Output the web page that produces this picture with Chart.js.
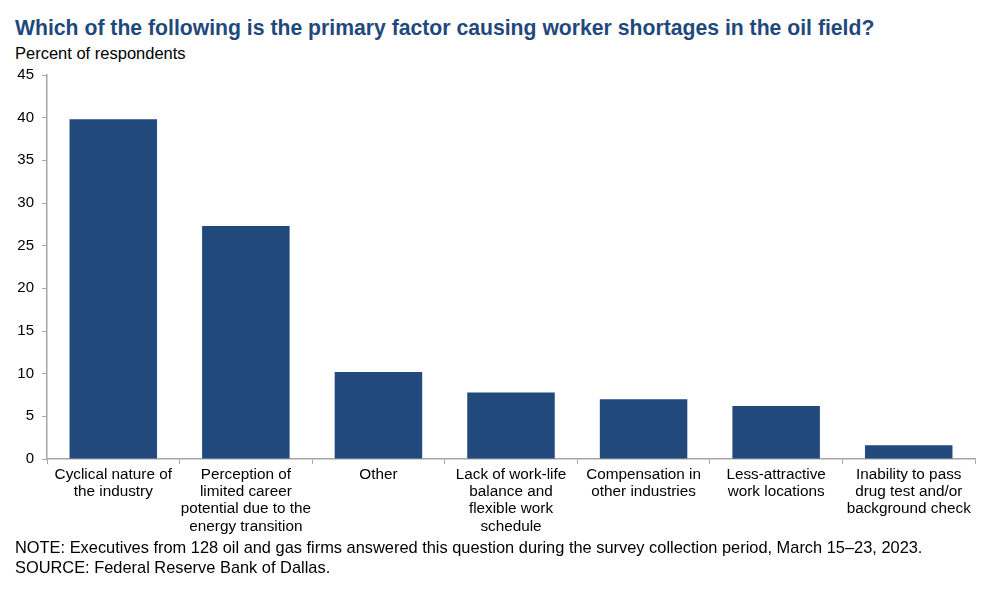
<!DOCTYPE html>
<html>
<head>
<meta charset="utf-8">
<script src="https://cdn.jsdelivr.net/npm/chart.js@4"></script>
<style>
  html, body { margin: 0; padding: 0; background: #fff; width: 1000px; height: 595px; overflow: hidden; font-family: "Liberation Sans", Arial, sans-serif; }
  .t { position: absolute; white-space: nowrap; }
  #title { left: 15px; top: 16px; font-size: 21.2px; font-weight: bold; color: #1f497d; }
  #sub { left: 15px; top: 44px; font-size: 16.5px; color: #000; }
  #note { left: 15px; top: 538px; font-size: 16.4px; color: #000; line-height: 19.5px; }
  #wrap { position: absolute; left: 0; top: 58px; width: 1000px; height: 481px; }
</style>
</head>
<body>
<div class="t" id="title">Which of the following is the primary factor causing worker shortages in the oil field?</div>
<div class="t" id="sub">Percent of respondents</div>
<div id="wrap"><canvas id="c"></canvas></div>
<div class="t" id="note">NOTE: Executives from 128 oil and gas firms answered this question during the survey collection period, March 15–23, 2023.<br>SOURCE: Federal Reserve Bank of Dallas.</div>
<script>
const categories = [
  ["Cyclical nature of", "the industry"],
  ["Perception of", "limited career", "potential due to the", "energy transition"],
  ["Other"],
  ["Lack of work-life", "balance and", "flexible work", "schedule"],
  ["Compensation in", "other industries"],
  ["Less-attractive", "work locations"],
  ["Inability to pass", "drug test and/or", "background check"]
];
const values = [39.8, 27.3, 10.2, 7.8, 7.0, 6.2, 1.6];
const yTicks = [0, 5, 10, 15, 20, 25, 30, 35, 40, 45];

const axisGrey = "#a6a6a6";
new Chart(document.getElementById("c"), {
  type: "bar",
  data: {
    labels: categories,
    datasets: [{
      data: values,
      backgroundColor: "#21497c",
      borderWidth: 0,
      categoryPercentage: 1,
      barPercentage: 0.66
    }]
  },
  options: {
    responsive: true,
    maintainAspectRatio: false,
    animation: false,
    devicePixelRatio: 1,
    layout: { padding: { left: 0, right: 25, top: 13, bottom: 0 } },
    plugins: { legend: { display: false }, tooltip: { enabled: false }, title: { display: false } },
    scales: {
      x: {
        offset: true,
        grid: { offset: true, drawOnChartArea: false, drawTicks: true, tickLength: 5, color: axisGrey, lineWidth: 1 },
        border: { display: true, color: axisGrey, width: 1.5 },
        ticks: { color: "#000", font: { family: "Liberation Sans", size: 15.3, lineHeight: 1.13 }, padding: 2, maxRotation: 0, autoSkip: false },
        afterFit: s => { s.height = 80; }
      },
      y: {
        min: 0, max: 45,
        afterBuildTicks: s => { s.ticks = yTicks.map(v => ({ value: v })); },
        grid: { drawOnChartArea: false, drawTicks: true, tickLength: 5, color: axisGrey, lineWidth: 1 },
        border: { display: true, color: axisGrey, width: 1.5 },
        ticks: { color: "#000", font: { family: "Liberation Sans", size: 15 }, padding: 8 },
        afterFit: s => { s.width = 47; }
      }
    }
  }
});
</script>
</body>
</html>
